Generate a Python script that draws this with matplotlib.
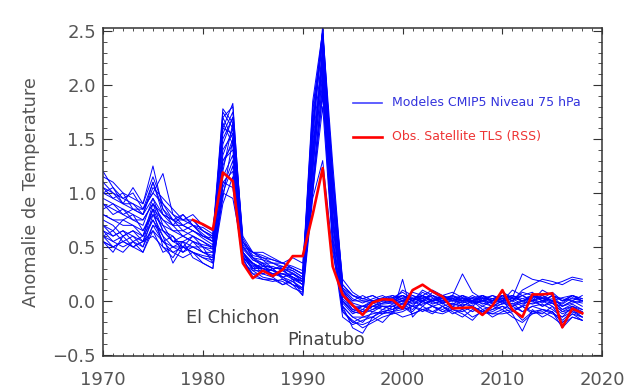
import numpy as np
from matplotlib import pyplot as plt
from matplotlib.ticker import MultipleLocator, FuncFormatter

years = list(range(1970, 2019))

# Modeles CMIP5, niveau 75 hPa (une liste par modele, 1970-2018)
m01 = [1.20, 1.05, 0.95, 0.90, 0.85, 1.10, 0.80, 0.75, 0.70, 0.65,
       0.60, 0.55, 1.75, 1.60, 0.55, 0.40, 0.35, 0.30, 0.30, 0.25,
       0.20, 1.60, 2.50, 0.95, 0.10, -0.05, -0.10, -0.05, 0.00, 0.02,
       0.05, 0.00, 0.08, 0.03, -0.02, 0.04, 0.00, -0.05, 0.02, -0.03,
       0.05, 0.00, 0.10, 0.15, 0.20, 0.18, 0.15, 0.20, 0.18]
m02 = [0.55, 0.50, 0.55, 0.60, 0.50, 0.80, 0.60, 0.50, 0.45, 0.55,
       0.45, 0.40, 0.95, 1.50, 0.40, 0.30, 0.25, 0.30, 0.20, 0.15,
       0.10, 1.20, 2.30, 0.80, -0.05, -0.15, -0.20, -0.10, -0.12, -0.05,
       -0.08, 0.02, 0.05, -0.02, 0.00, 0.03, -0.05, 0.00, -0.08, -0.05,
       0.00, -0.10, -0.05, 0.05, 0.00, -0.02, -0.10, -0.08, -0.15]
m03 = [1.10, 1.00, 0.90, 1.05, 0.90, 1.25, 0.85, 0.70, 0.80, 0.70,
       0.65, 0.60, 1.60, 1.83, 0.50, 0.45, 0.40, 0.35, 0.35, 0.30,
       0.25, 1.80, 2.40, 1.20, 0.15, 0.05, 0.00, 0.00, 0.03, 0.05,
       0.00, 0.05, 0.02, 0.05, 0.00, 0.02, 0.05, 0.00, 0.03, 0.00,
       0.02, 0.05, 0.00, 0.03, 0.05, 0.00, -0.02, 0.05, 0.00]
m04 = [0.65, 0.60, 0.65, 0.55, 0.60, 0.75, 0.55, 0.45, 0.50, 0.45,
       0.40, 0.35, 1.05, 1.30, 0.35, 0.25, 0.20, 0.20, 0.15, 0.20,
       0.15, 1.10, 2.00, 0.60, -0.10, -0.20, -0.15, -0.12, -0.10, -0.08,
       -0.05, -0.10, 0.00, -0.05, -0.08, -0.03, -0.05, -0.10, -0.05, -0.08,
       -0.02, -0.05, -0.10, -0.05, -0.08, -0.10, -0.20, -0.12, -0.18]
m05 = [1.00, 0.95, 1.00, 0.85, 0.80, 1.05, 0.95, 0.85, 0.75, 0.80,
       0.70, 0.65, 1.50, 1.70, 0.60, 0.45, 0.45, 0.40, 0.35, 0.40,
       0.35, 1.50, 2.55, 1.10, 0.20, 0.08, 0.02, 0.05, 0.00, 0.03,
       0.08, 0.02, 0.05, 0.10, 0.05, 0.02, 0.00, 0.05, 0.00, 0.02,
       0.05, 0.02, 0.05, 0.08, 0.00, 0.05, 0.02, 0.00, 0.05]
m06 = [0.60, 0.55, 0.50, 0.55, 0.45, 0.70, 0.65, 0.55, 0.50, 0.45,
       0.35, 0.30, 1.00, 0.95, 0.45, 0.30, 0.30, 0.25, 0.25, 0.20,
       0.05, 0.95, 1.30, 0.45, -0.05, -0.25, -0.30, -0.15, -0.20, -0.10,
       -0.15, -0.12, -0.08, -0.10, -0.05, -0.12, -0.08, -0.15, -0.10, -0.12,
       -0.08, -0.15, -0.20, -0.12, -0.10, -0.15, -0.22, -0.15, -0.18]
m07 = [0.90, 0.85, 0.80, 0.75, 0.70, 0.95, 0.70, 0.65, 0.65, 0.60,
       0.55, 0.50, 1.40, 1.55, 0.45, 0.35, 0.30, 0.28, 0.25, 0.25,
       0.20, 1.40, 2.20, 0.90, 0.05, -0.05, -0.05, -0.08, -0.02, 0.00,
       0.02, -0.03, 0.00, 0.02, -0.02, 0.00, 0.03, -0.02, 0.00, -0.05,
       0.00, 0.02, -0.03, 0.00, 0.03, -0.02, -0.05, 0.00, -0.05]
m08 = [0.75, 0.70, 0.60, 0.65, 0.55, 0.85, 0.50, 0.40, 0.55, 0.50,
       0.45, 0.45, 1.20, 1.65, 0.45, 0.30, 0.35, 0.22, 0.30, 0.20,
       0.18, 1.30, 2.35, 0.75, 0.00, -0.10, -0.12, -0.05, -0.08, -0.03,
       0.00, -0.05, 0.05, 0.00, 0.02, -0.05, 0.00, 0.02, -0.03, 0.00,
       0.05, -0.05, 0.00, 0.05, 0.02, 0.00, -0.08, -0.05, -0.10]
m09 = [1.05, 1.00, 0.95, 1.00, 0.85, 1.00, 1.18, 0.80, 0.70, 0.75,
       0.65, 0.60, 1.70, 1.50, 0.55, 0.40, 0.38, 0.35, 0.32, 0.30,
       0.25, 1.70, 2.45, 1.15, 0.10, 0.00, 0.05, 0.00, 0.02, 0.00,
       0.05, 0.00, 0.10, 0.05, 0.00, 0.05, 0.02, 0.00, 0.05, 0.00,
       0.08, 0.03, 0.25, 0.20, 0.18, 0.15, 0.18, 0.22, 0.20]
m10 = [0.55, 0.45, 0.60, 0.50, 0.55, 0.65, 0.55, 0.60, 0.45, 0.50,
       0.50, 0.35, 0.90, 1.15, 0.40, 0.22, 0.20, 0.18, 0.20, 0.15,
       0.12, 1.00, 1.80, 0.50, -0.15, -0.22, -0.18, -0.15, -0.10, -0.12,
       -0.10, -0.05, -0.08, -0.12, -0.05, -0.10, -0.15, -0.08, -0.12, -0.10,
       -0.05, -0.12, -0.28, -0.08, -0.15, -0.10, -0.25, -0.15, -0.18]
m11 = [0.85, 0.90, 0.85, 0.80, 0.75, 0.90, 0.75, 0.70, 0.70, 0.65,
       0.60, 0.55, 1.55, 1.75, 0.50, 0.40, 0.32, 0.32, 0.28, 0.22,
       0.18, 1.55, 2.50, 1.00, 0.08, -0.02, -0.05, 0.00, -0.03, -0.02,
       0.00, 0.03, -0.02, 0.00, 0.05, 0.00, -0.02, 0.03, 0.00, 0.02,
       -0.02, 0.03, 0.00, -0.03, 0.00, 0.02, -0.05, -0.02, 0.00]
m12 = [0.70, 0.65, 0.75, 0.70, 0.65, 0.80, 0.70, 0.55, 0.60, 0.55,
       0.50, 0.45, 1.30, 1.40, 0.40, 0.35, 0.25, 0.30, 0.22, 0.18,
       0.12, 1.25, 2.10, 0.70, -0.02, -0.12, -0.08, -0.10, -0.05, -0.08,
       -0.03, -0.08, 0.00, -0.05, -0.02, -0.08, -0.03, -0.05, -0.10, -0.05,
       -0.08, -0.02, -0.10, -0.05, -0.03, -0.08, -0.15, -0.10, -0.12]
m13 = [0.95, 0.90, 0.80, 0.85, 0.80, 0.95, 0.80, 0.75, 0.65, 0.70,
       0.60, 0.58, 1.65, 1.45, 0.50, 0.38, 0.35, 0.35, 0.30, 0.28,
       0.22, 1.65, 2.40, 1.00, 0.12, 0.02, -0.02, 0.02, 0.05, 0.00,
       0.10, 0.05, 0.00, 0.08, 0.02, 0.05, 0.25, 0.08, 0.02, 0.05,
       0.00, 0.10, 0.05, 0.00, 0.10, 0.05, 0.00, 0.05, 0.00]
m14 = [0.60, 0.50, 0.55, 0.50, 0.45, 0.65, 0.45, 0.50, 0.55, 0.40,
       0.35, 0.30, 1.10, 1.05, 0.35, 0.28, 0.22, 0.20, 0.18, 0.12,
       0.08, 1.05, 1.90, 0.55, -0.10, -0.18, -0.25, -0.20, -0.15, -0.12,
       0.20, -0.15, -0.05, -0.10, -0.12, -0.08, -0.12, -0.18, -0.08, -0.15,
       -0.10, -0.08, -0.18, -0.10, -0.12, -0.05, -0.18, -0.10, -0.15]
m15 = [1.15, 1.10, 1.00, 0.95, 0.90, 1.15, 0.90, 0.80, 0.75, 0.70,
       0.68, 0.62, 1.78, 1.65, 0.58, 0.42, 0.40, 0.38, 0.35, 0.32,
       0.28, 1.85, 2.50, 1.28, 0.15, 0.05, 0.02, 0.05, 0.00, 0.05,
       0.02, 0.08, 0.05, 0.00, 0.05, 0.08, 0.03, 0.00, 0.05, 0.02,
       0.05, 0.00, 0.08, 0.05, 0.02, 0.08, 0.00, 0.05, 0.02]
m16 = [0.80, 0.75, 0.70, 0.70, 0.60, 0.85, 0.65, 0.60, 0.50, 0.60,
       0.50, 0.48, 1.35, 1.60, 0.42, 0.35, 0.28, 0.25, 0.28, 0.22,
       0.15, 1.35, 2.25, 0.80, 0.02, -0.08, -0.10, -0.05, -0.05, -0.05,
       -0.02, 0.00, -0.05, 0.02, 0.00, -0.03, 0.02, -0.03, 0.00, -0.02,
       0.02, -0.03, 0.00, 0.02, -0.05, 0.00, -0.08, -0.03, -0.08]
m17 = [0.60, 0.65, 0.55, 0.50, 0.55, 0.60, 0.50, 0.45, 0.40, 0.45,
       0.40, 0.38, 1.00, 1.25, 0.38, 0.25, 0.25, 0.22, 0.15, 0.18,
       0.10, 1.00, 1.95, 0.55, -0.05, -0.15, -0.15, -0.15, -0.08, -0.10,
       -0.08, -0.05, -0.10, -0.05, -0.10, -0.05, -0.08, -0.05, -0.12, -0.08,
       -0.05, -0.08, -0.05, -0.10, -0.08, -0.12, -0.15, -0.05, -0.12]
m18 = [1.00, 1.05, 0.90, 0.90, 0.80, 1.10, 0.85, 0.75, 0.80, 0.70,
       0.62, 0.55, 1.60, 1.55, 0.52, 0.45, 0.38, 0.30, 0.32, 0.28,
       0.22, 1.60, 2.45, 1.10, 0.10, 0.00, 0.00, -0.02, 0.02, 0.00,
       0.05, 0.02, 0.05, 0.00, 0.05, 0.00, 0.05, 0.02, 0.00, 0.05,
       0.02, 0.05, 0.02, 0.05, 0.00, 0.05, 0.00, 0.02, 0.00]
m19 = [0.70, 0.60, 0.65, 0.60, 0.55, 0.75, 0.60, 0.35, 0.50, 0.45,
       0.42, 0.40, 1.15, 1.35, 0.40, 0.32, 0.30, 0.28, 0.22, 0.25,
       0.18, 1.20, 2.15, 0.75, 0.00, -0.10, -0.05, -0.02, -0.05, -0.05,
       0.00, -0.02, 0.02, -0.03, 0.00, 0.02, -0.02, 0.00, -0.05, 0.00,
       0.00, -0.05, -0.02, 0.00, -0.05, -0.02, -0.10, -0.05, -0.08]
m20 = [0.90, 0.80, 0.85, 0.75, 0.75, 0.90, 0.80, 0.70, 0.60, 0.65,
       0.58, 0.52, 1.45, 1.70, 0.48, 0.38, 0.33, 0.30, 0.30, 0.26,
       0.20, 1.45, 2.35, 0.95, 0.05, -0.05, -0.08, 0.00, 0.00, -0.02,
       0.03, 0.00, 0.05, 0.00, 0.03, 0.00, 0.05, -0.02, 0.03, 0.00,
       0.03, 0.00, 0.05, 0.00, 0.05, 0.00, -0.03, 0.03, 0.00]
m21 = [0.55, 0.50, 0.45, 0.55, 0.50, 0.70, 0.55, 0.50, 0.50, 0.50,
       0.45, 0.42, 1.10, 1.20, 0.42, 0.28, 0.28, 0.25, 0.22, 0.15,
       0.05, 1.10, 2.05, 0.65, -0.08, -0.20, -0.22, -0.18, -0.12, -0.10,
       -0.05, -0.12, -0.08, -0.05, -0.10, -0.08, -0.10, -0.05, -0.10, -0.12,
       -0.12, -0.10, -0.05, -0.12, -0.08, -0.10, -0.20, -0.12, -0.15]
m22 = [0.80, 0.75, 0.75, 0.80, 0.65, 0.85, 0.75, 0.65, 0.60, 0.55,
       0.52, 0.50, 1.25, 1.50, 0.45, 0.33, 0.32, 0.28, 0.25, 0.22,
       0.18, 1.30, 2.30, 0.90, 0.05, -0.08, -0.05, -0.05, -0.02, 0.00,
       0.00, 0.02, 0.00, 0.05, -0.03, 0.02, 0.00, 0.00, 0.05, -0.02,
       0.00, 0.05, 0.00, 0.02, -0.02, 0.05, -0.05, 0.00, -0.02]
m23 = [0.65, 0.55, 0.60, 0.65, 0.60, 0.90, 0.65, 0.55, 0.55, 0.60,
       0.55, 0.48, 1.30, 1.45, 0.45, 0.35, 0.30, 0.25, 0.25, 0.22,
       0.15, 1.40, 2.20, 0.80, 0.00, -0.10, -0.12, -0.08, -0.05, -0.08,
       -0.02, -0.05, -0.03, 0.00, -0.05, -0.02, -0.05, 0.00, -0.02, -0.05,
       -0.03, 0.00, -0.05, -0.02, 0.00, -0.05, -0.12, -0.08, -0.10]
m24 = [1.05, 0.95, 0.90, 0.85, 0.85, 1.00, 0.90, 0.75, 0.75, 0.75,
       0.65, 0.58, 1.70, 1.80, 0.55, 0.45, 0.42, 0.38, 0.35, 0.30,
       0.25, 1.75, 2.50, 1.15, 0.12, 0.05, 0.02, 0.00, 0.02, 0.03,
       0.05, 0.00, 0.03, 0.05, 0.02, 0.05, 0.00, 0.03, 0.05, 0.00,
       0.05, 0.03, 0.00, 0.05, 0.03, 0.00, 0.03, 0.05, 0.02]

modeles = [m01, m02, m03, m04, m05, m06, m07, m08, m09, m10, m11, m12,
           m13, m14, m15, m16, m17, m18, m19, m20, m21, m22, m23, m24]

# Observations satellite TLS (RSS), 1979-2018
obs_years = list(range(1979, 2019))
obs_tls = [0.75, 0.71, 0.66, 1.19, 1.11, 0.35, 0.21, 0.28, 0.23, 0.29,
           0.415, 0.415, 0.80, 1.23, 0.32, 0.056, -0.04, -0.13, -0.015, 0.015,
           0.01, -0.07, 0.10, 0.15, 0.087, 0.04, -0.07, -0.065, -0.06, -0.13,
           -0.045, 0.10, -0.083, -0.15, 0.06, 0.06, 0.07, -0.245, -0.07, -0.115]

gris = '#555555'

fig = plt.figure(figsize=(6.4, 3.92), dpi=100)
ax = fig.add_axes([0.161, 0.092, 0.780, 0.837])

for serie in modeles:
    ax.plot(years, serie, color='#0000ff', linewidth=0.7)
ax.plot(obs_years, obs_tls, color='#ff0000', linewidth=1.9)

ax.set_xlim(1970, 2020)
ax.set_ylim(-0.51, 2.53)
ax.xaxis.set_major_locator(MultipleLocator(10))
ax.xaxis.set_minor_locator(MultipleLocator(1))
ax.yaxis.set_major_locator(MultipleLocator(0.5))
ax.yaxis.set_minor_locator(MultipleLocator(0.1))
ax.yaxis.set_major_formatter(FuncFormatter(lambda v, p: f'{v:.1f}'.replace('-', '\u2212')))

ax.tick_params(axis='both', which='both', direction='in', top=True, right=True,
               colors='#333333', labelcolor=gris, labelsize=13)
ax.tick_params(axis='x', which='major', length=4.5, pad=11)
ax.tick_params(axis='x', which='minor', length=2)
ax.tick_params(axis='y', which='major', length=6.5, pad=5)
ax.tick_params(axis='y', which='minor', length=3)
for s in ax.spines.values():
    s.set_color('#333333')
    s.set_linewidth(1.1)

ax.set_ylabel('Anomalie de Temperature', fontsize=12.8, color=gris, labelpad=9)

ax.text(1983.0, -0.16, 'El Chichon', fontsize=12.8, color='#444444',
        ha='center', va='center')
ax.text(1992.3, -0.36, 'Pinatubo', fontsize=12.8, color='#444444',
        ha='center', va='center')

# legende
ax.plot([0.501, 0.559], [0.771, 0.771], transform=ax.transAxes,
        color='#4444ff', linewidth=1.2)
ax.text(0.579, 0.771, 'Modeles CMIP5 Niveau 75 hPa', transform=ax.transAxes,
        fontsize=9, color='#3333dd', va='center')
ax.plot([0.501, 0.559], [0.668, 0.668], transform=ax.transAxes,
        color='#ff0000', linewidth=1.9)
ax.text(0.579, 0.668, 'Obs. Satellite TLS (RSS)', transform=ax.transAxes,
        fontsize=9, color='#ee3333', va='center')

fig.savefig('out.png', dpi=100)
